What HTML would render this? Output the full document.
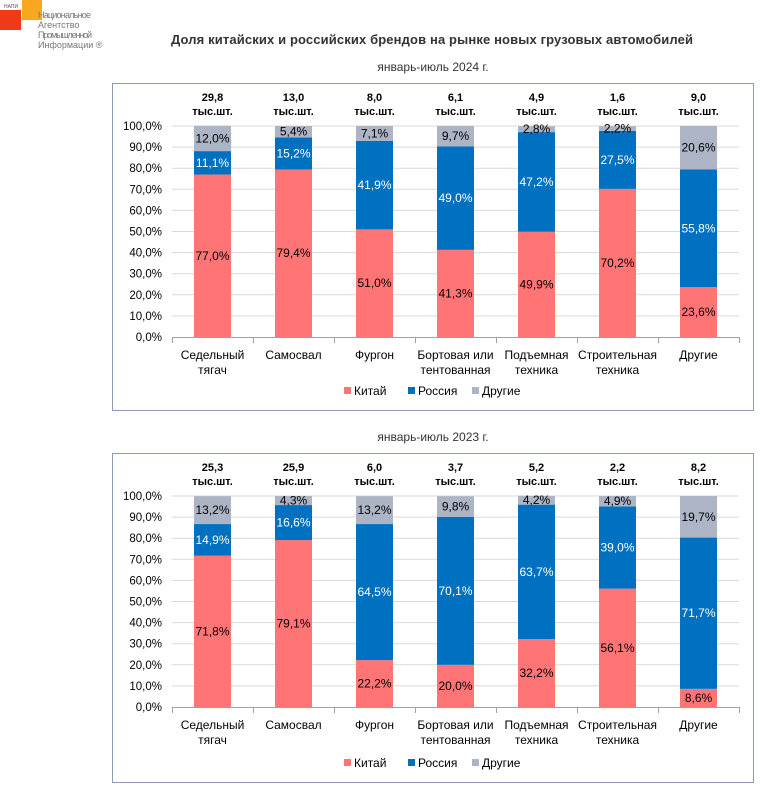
<!DOCTYPE html>
<html><head><meta charset="utf-8">
<style>
body{margin:0;background:#fff;width:760px;height:785px;overflow:hidden;font-family:"Liberation Sans",sans-serif;}
svg text{font-family:"Liberation Sans",sans-serif;}
</style></head>
<body>
<svg id="s" width="760" height="785" xmlns="http://www.w3.org/2000/svg"></svg>
<script>
const S=document.getElementById('s');let h='';
h+='<rect x="0" y="10" width="21" height="20" fill="#f03a17"/><rect x="22" y="0" width="20" height="20" fill="#f8a81e"/>';
h+='<text x="4" y="8" font-size="5" fill="#555">НАПИ</text>';
h+='<text x="38" y="18" font-size="9" fill="#777" textLength="53">Национальное</text><text x="38" y="28" font-size="9" fill="#777">Агентство</text><text x="38" y="38" font-size="9" fill="#777" textLength="54">Промышленной</text><text x="38" y="48" font-size="9" fill="#777">Информации ®</text>';
h+='<text x="432" y="44" font-size="13" font-weight="bold" fill="#333" text-anchor="middle" textLength="522">Доля китайских и российских брендов на рынке новых грузовых автомобилей</text>';
const cats=[["Седельный","тягач"],["Самосвал"],["Фургон"],["Бортовая или","тентованная"],["Подъемная","техника"],["Строительная","техника"],["Другие"]];
const C='#ff7575',R='#0070c0',O='#adb4c6';
function chart(top,box,sub,tot,data){
 const y0=top+211, k=2.11;
 h+=`<text x="433" y="${top-55}" font-size="12" fill="#333" text-anchor="middle">${sub}</text>`;
 h+=`<rect x="112.5" y="${box[0]+.5}" width="641" height="${box[1]-box[0]}" fill="#fff" stroke="#8e9cb3"/>`;
 for(let i=0;i<=10;i++){const y=y0-i*10*k;
  if(i>0)h+=`<line x1="172" x2="739" y1="${y}" y2="${y}" stroke="#d9d9d9"/>`;
  h+=`<text x="162" y="${y+4}" font-size="11.5" fill="#000" text-anchor="end">${i*10},0%</text>`;}
 h+=`<line x1="172" x2="739" y1="${y0+.5}" y2="${y0+.5}" stroke="#a0a0a0"/>`;
 for(let i=0;i<=7;i++){const x=172.5+i*81;h+=`<line x1="${x}" x2="${x}" y1="${y0}" y2="${y0+6}" stroke="#a0a0a0"/>`;}
 data.forEach((d,i)=>{const cx=212.5+i*81,x=cx-18.5;let y=y0;
  const cols=[C,R,O],tc=['#000','#fff','#000'];
  d.forEach((v,j)=>{const hh=v*k;h+=`<rect x="${x}" y="${y-hh}" width="37" height="${hh}" fill="${cols[j]}"/>`;y-=hh;});
  y=y0;d.forEach((v,j)=>{const hh=v*k;h+=`<text x="${cx}" y="${y-hh/2+4}" font-size="12" fill="${tc[j]}" text-anchor="middle">${v.toFixed(1).replace('.',',')}%</text>`;y-=hh;});
  h+=`<text x="${cx}" y="${top-25}" font-size="11" font-weight="bold" text-anchor="middle">${tot[i]}</text><text x="${cx}" y="${top-11}" font-size="11" font-weight="bold" text-anchor="middle">тыс.шт.</text>`;
  cats[i].forEach((t,j)=>h+=`<text x="${cx}" y="${y0+22+j*15}" font-size="12" text-anchor="middle">${t}</text>`);
 });
 const ly=box[1]-19;
 [[C,'Китай',344],[R,'Россия',408],[O,'Другие',472]].forEach(([c,t,x])=>{h+=`<rect x="${x}" y="${ly-4}" width="7" height="7" fill="${c}"/><text x="${x+10}" y="${ly+4}" font-size="12">${t}</text>`;});
}
chart(126,[83,410],'январь-июль 2024 г.',['29,8','13,0','8,0','6,1','4,9','1,6','9,0'],
 [[77.0,11.1,12.0],[79.4,15.2,5.4],[51.0,41.9,7.1],[41.3,49.0,9.7],[49.9,47.2,2.8],[70.2,27.5,2.2],[23.6,55.8,20.6]]);
chart(496,[453,782],'январь-июль 2023 г.',['25,3','25,9','6,0','3,7','5,2','2,2','8,2'],
 [[71.8,14.9,13.2],[79.1,16.6,4.3],[22.2,64.5,13.2],[20.0,70.1,9.8],[32.2,63.7,4.2],[56.1,39.0,4.9],[8.6,71.7,19.7]]);
S.innerHTML=h;
</script>
</body></html>
